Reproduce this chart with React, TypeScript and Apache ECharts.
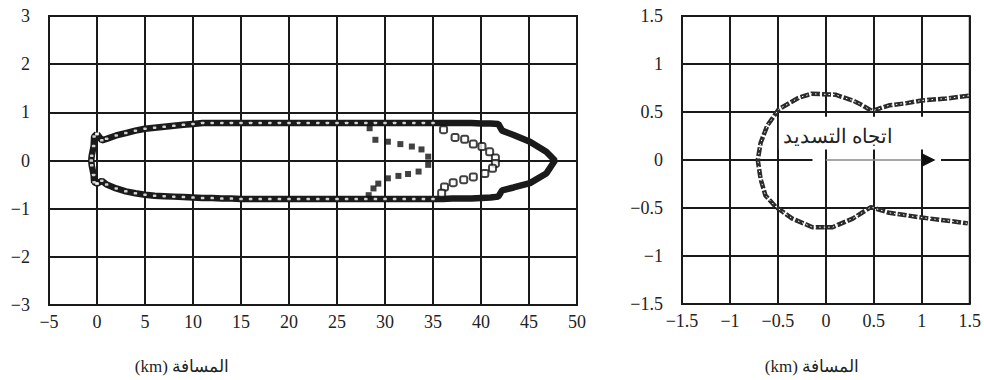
import React, { useEffect, useRef } from "react";
import * as echarts from "echarts";

// ---------- Left panel data (km) ----------
const envUpper: [number, number][] = [
  [0, 0.55], [0.5, 0.42], [1, 0.45], [2, 0.52], [3, 0.57], [4, 0.62], [5, 0.66],
  [6, 0.68], [7, 0.7], [8, 0.72], [9, 0.74], [10, 0.76], [11, 0.78], [12, 0.78],
  [13, 0.78], [14, 0.78], [15, 0.78], [16, 0.78], [17, 0.78], [18, 0.78], [19, 0.78],
  [20, 0.78], [21, 0.78], [22, 0.78], [23, 0.78], [24, 0.78], [25, 0.78], [26, 0.78],
  [27, 0.78], [28, 0.78], [29, 0.78], [30, 0.78], [31, 0.78], [32, 0.78], [33, 0.78],
  [34, 0.78], [35, 0.78],
];
const envLower: [number, number][] = [
  [0, -0.48], [0.5, -0.42], [1, -0.5], [2, -0.58], [3, -0.64], [4, -0.68], [5, -0.71],
  [6, -0.73], [7, -0.74], [8, -0.75], [9, -0.76], [10, -0.77], [11, -0.78], [12, -0.78],
  [13, -0.79], [14, -0.79], [15, -0.8], [16, -0.8], [17, -0.8], [18, -0.8], [19, -0.8],
  [20, -0.8], [21, -0.8], [22, -0.8], [23, -0.8], [24, -0.8], [25, -0.8], [26, -0.8],
  [27, -0.8], [28, -0.8], [29, -0.8], [30, -0.8], [31, -0.8], [32, -0.8], [33, -0.8],
  [34, -0.8], [35, -0.8],
];
const leftCap: [number, number][] = [
  [0, 0.55], [-0.3, 0.5], [-0.35, 0.3], [-0.55, 0.1], [-0.6, 0], [-0.55, -0.1],
  [-0.35, -0.3], [-0.3, -0.45], [0, -0.48],
];
const noseUpper: [number, number][] = [
  [36, 0.78], [37, 0.78], [38, 0.78], [39, 0.78], [40, 0.77], [41, 0.77], [41.8, 0.76],
  [42.2, 0.62], [43.4, 0.53], [45.1, 0.39], [46.8, 0.18], [47.7, 0],
];
const noseLower: [number, number][] = [
  [36, -0.8], [37, -0.79], [38, -0.79], [39, -0.79], [40, -0.78], [41, -0.77], [41.8, -0.75],
  [42.2, -0.62], [43.4, -0.56], [45.1, -0.47], [46.8, -0.27], [47.7, 0],
];
const circleInner: [number, number][] = [
  [36.1, 0.64], [37.3, 0.48], [38.3, 0.44], [39.2, 0.34], [40.1, 0.29], [40.9, 0.18],
  [41.5, 0.05], [41.5, -0.06], [41.2, -0.16], [40.4, -0.27], [39.2, -0.34], [38.2, -0.4],
  [37.1, -0.46], [36.2, -0.55], [35.9, -0.68],
];
const squareInner: [number, number][] = [
  [28.4, 0.67], [29, 0.43], [30.3, 0.39], [31.6, 0.34], [32.8, 0.29], [33.8, 0.23],
  [34.5, 0.08], [34.5, -0.09], [33.5, -0.23], [32.4, -0.28], [31.4, -0.32], [30.3, -0.37],
  [29.3, -0.48], [28.8, -0.58], [28.3, -0.72],
];

// ---------- Right panel data (km) ----------
const loopPath: [number, number][] = [
  [1.49, 0.67], [1.25, 0.64], [1.0, 0.62], [0.83, 0.59], [0.66, 0.57], [0.48, 0.51],
  [0.38, 0.57], [0.28, 0.62], [0.1, 0.68], [-0.15, 0.69], [-0.28, 0.65], [-0.49, 0.53],
  [-0.61, 0.36], [-0.68, 0.18], [-0.71, 0], [-0.68, -0.2], [-0.63, -0.37], [-0.52, -0.49],
  [-0.35, -0.61], [-0.14, -0.7], [0.07, -0.7], [0.28, -0.61], [0.47, -0.49], [0.66, -0.55],
  [1.0, -0.6], [1.25, -0.63], [1.48, -0.66],
];
const arrowShaft: [number, number][] = [[0, 0], [1.0, 0]];
const arrowHead: [number, number][] = [[1.07, 0]];
const zeroLineLeft: [number, number][] = [[-1.5, 0], [-0.14, 0]];
const zeroLineRight: [number, number][] = [[1.2, 0], [1.5, 0]];
// label box corners in km (right panel): [xMin, yMax], [xMax, yMin]
const labelBox: [number, number][] = [[-0.49, 0.45], [1.12, 0.11]];

const xTicksLeft = { min: -5, max: 50, interval: 5 };
const yTicksLeft = { min: -3, max: 3, interval: 1 };
const ticksRight = { min: -1.5, max: 1.5, interval: 0.5 };

const axisTitle = "(km) المسافة";
const directionLabel = "اتجاه التسديد";

const INK = "#1a1a1a";
const SERIF = "Liberation Serif";

const fmt = (v: number) => {
  const s = String(Math.round(v * 10) / 10);
  return s.replace("-", "\u2212");
};

export default function App() {
  const ref = useRef<HTMLDivElement>(null);
  useEffect(() => {
    document.body.style.margin = "0";
    if (!ref.current) return;
    const chart = echarts.init(ref.current, undefined, { renderer: "svg" });
    const labelStyle = {
      color: "#222",
      fontSize: 18,
      fontFamily: SERIF,
      formatter: (v: number) => fmt(v),
    };
    const split = { show: true, lineStyle: { color: INK, width: 2 } };
    const rightYSplit = {
      show: true,
      lineStyle: { color: [INK, INK, INK, "rgba(0,0,0,0)", INK, INK, INK], width: 2 },
    };
    const fullLoop = [
      ...envUpper,
      ...noseUpper,
      ...[...noseLower].reverse(),
      ...[...envLower].reverse(),
      ...[...leftCap].reverse(),
    ];
    const titles = [
      {
        type: "text", x: 182, y: 366,
        style: {
          text: axisTitle, fill: "#222", fontSize: 17, fontFamily: SERIF,
          align: "center", verticalAlign: "middle",
        },
      },
      {
        type: "text", x: 812, y: 366,
        style: {
          text: axisTitle, fill: "#222", fontSize: 17, fontFamily: SERIF,
          align: "center", verticalAlign: "middle",
        },
      },
    ];
    chart.setOption({
      animation: false,
      backgroundColor: "#fff",
      textStyle: { fontFamily: SERIF },
      grid: [
        { left: 49, top: 16, width: 528, height: 289, show: true, borderColor: INK, borderWidth: 2 },
        { left: 682, top: 16, width: 289, height: 288, show: true, borderColor: INK, borderWidth: 2 },
      ],
      xAxis: [
        {
          type: "value", gridIndex: 0, ...xTicksLeft,
          axisLine: { show: false }, axisTick: { show: false },
          axisLabel: { ...labelStyle, margin: 8 }, splitLine: split,
        },
        {
          type: "value", gridIndex: 1, ...ticksRight,
          axisLine: { show: false }, axisTick: { show: false },
          axisLabel: { ...labelStyle, margin: 8 }, splitLine: split,
        },
      ],
      yAxis: [
        {
          type: "value", gridIndex: 0, ...yTicksLeft,
          axisLine: { show: false }, axisTick: { show: false },
          axisLabel: { ...labelStyle, margin: 19 }, splitLine: split,
        },
        {
          type: "value", gridIndex: 1, ...ticksRight,
          axisLine: { show: false }, axisTick: { show: false },
          axisLabel: { ...labelStyle, margin: 19 }, splitLine: rightYSplit,
        },
      ],
      series: [
        {
          type: "line", xAxisIndex: 0, yAxisIndex: 0, data: fullLoop,
          symbol: "none", lineStyle: { color: INK, width: 6.5 }, z: 2,
        },
        {
          type: "scatter", xAxisIndex: 0, yAxisIndex: 0, data: squareInner,
          symbol: "rect", symbolSize: 6, itemStyle: { color: "#111" }, z: 3,
        },
        {
          type: "scatter", xAxisIndex: 0, yAxisIndex: 0,
          data: [...envUpper, ...envLower, ...leftCap],
          symbol: "roundRect", symbolSize: [3.5, 2.5],
          itemStyle: { color: "#fff" }, z: 4,
        },
        {
          type: "scatter", xAxisIndex: 0, yAxisIndex: 0, data: circleInner,
          symbol: "roundRect", symbolSize: 7,
          itemStyle: { color: "#fff", borderColor: "#111", borderWidth: 2 }, z: 4,
        },
        {
          type: "line", xAxisIndex: 1, yAxisIndex: 1, data: zeroLineLeft,
          symbol: "none", lineStyle: { color: INK, width: 2 }, z: 1,
        },
        {
          type: "line", xAxisIndex: 1, yAxisIndex: 1, data: zeroLineRight,
          symbol: "none", lineStyle: { color: INK, width: 2 }, z: 1,
        },
        {
          type: "line", xAxisIndex: 1, yAxisIndex: 1, data: arrowShaft,
          symbol: "none", lineStyle: { color: "#8a8a8a", width: 1.3 }, z: 2,
        },
        {
          type: "scatter", xAxisIndex: 1, yAxisIndex: 1, data: arrowHead,
          symbol: "triangle", symbolSize: [14, 14], symbolRotate: -90,
          itemStyle: { color: "#111", opacity: 1 }, z: 3,
        },
        {
          type: "line", xAxisIndex: 1, yAxisIndex: 1, data: loopPath,
          symbol: "none", lineStyle: { color: "#2a2a2a", width: 4.5, type: [9, 2] }, z: 4,
        },
        {
          type: "line", xAxisIndex: 1, yAxisIndex: 1, data: loopPath,
          symbol: "none", lineStyle: { color: "#fff", width: 1, type: [1.5, 3] }, z: 5,
        },
      ],
      graphic: titles,
    });
    const p1 = chart.convertToPixel({ gridIndex: 1 }, labelBox[0]) as number[];
    const p2 = chart.convertToPixel({ gridIndex: 1 }, labelBox[1]) as number[];
    chart.setOption({
      graphic: [
        ...titles,
        {
          type: "rect", z: 10,
          shape: { x: p1[0], y: p1[1], width: p2[0] - p1[0], height: p2[1] - p1[1] },
          style: { fill: "#fff" },
        },
        {
          type: "text", z: 11, x: 838, y: 136,
          style: {
            text: directionLabel, fill: "#222", fontSize: 20, fontFamily: SERIF,
            align: "center", verticalAlign: "middle",
          },
        },
      ],
    });
    return () => chart.dispose();
  }, []);
  return <div ref={ref} style={{ width: 984, height: 380 }} />;
}
